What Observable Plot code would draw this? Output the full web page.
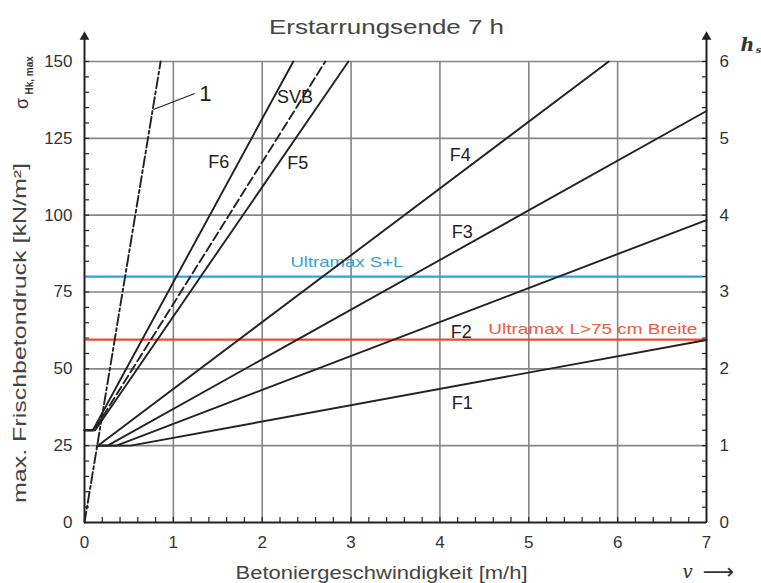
<!DOCTYPE html>
<html><head><meta charset="utf-8">
<script src="https://cdn.jsdelivr.net/npm/d3@7"></script>
<script src="https://cdn.jsdelivr.net/npm/@observablehq/plot@0.6"></script>
<style>body{margin:0;background:#fff} svg{display:block}</style>
</head><body><div id="chart"></div>
<script>
// ---- data ----
const titleText = "Erstarrungsende 7 h";
const xLabel = "Betoniergeschwindigkeit [m/h]";
const yLabel = "max. Frischbetondruck [kN/m²]";
const xTicks = [0, 1, 2, 3, 4, 5, 6, 7];
const yTicks = [0, 25, 50, 75, 100, 125, 150];
const hTickLabels = ["0", "1", "2", "3", "4", "5", "6"];

const seriesNames = ["1", "F1", "F2", "F3", "F4", "F5", "F6", "SVB"];
const seriesV = {
  "1":   [0, 0.857],
  "F1":  [0.143, 0.52, 7],
  "F2":  [0.143, 0.36, 7],
  "F3":  [0.143, 0.26, 7],
  "F4":  [0.143, 0.15, 5.9],
  "F5":  [0, 0.12, 2.97],
  "F6":  [0, 0.094, 2.35],
  "SVB": [0, 0.108, 2.71]
};
const seriesS = {
  "1":   [0, 150],
  "F1":  [25, 25, 59.4],
  "F2":  [25, 25, 98.4],
  "F3":  [25, 25, 133.9],
  "F4":  [25, 25, 150],
  "F5":  [30, 30, 150],
  "F6":  [30, 30, 150],
  "SVB": [30, 30, 150]
};
const labelNames = ["F1", "F2", "F3", "F4", "F5", "F6", "SVB", "1"];
const labelV = [4.25, 4.24, 4.25, 4.23, 2.40, 1.51, 2.37, 1.36];
const labelS = [38.7, 62.0, 94.4, 119.4, 116.8, 117.2, 138.3, 139.6];
const leaderV = [0.776, 1.24];
const leaderS = [134.4, 139.6];

const limitNames = ["Ultramax S+L", "Ultramax L>75 cm Breite"];
const limitValues = [80, 59.5];
const limitEnds = [6.96, 7];
const limitColors = ["#2ea3e3", "#f2492c"];
const limitTextColors = ["#3a9fdc", "#ef5a3c"];
const limitLabelV = [2.317, 4.545];
const limitLabelS = [84.6, 62.8];

// ---- build tables ----
const rows = seriesNames.flatMap(name =>
  seriesV[name].map((v, i) => ({series: name, v, s: seriesS[name][i]})));
const solid = rows.filter(d => ["F1","F2","F3","F4","F5","F6"].includes(d.series));
const svb = rows.filter(d => d.series === "SVB");
const hyd = rows.filter(d => d.series === "1");
const labels = labelNames.map((n, i) => ({n, v: labelV[i], s: labelS[i]}));
const limits = limitNames.map((n, i) => ({n, s: limitValues[i], end: limitEnds[i], c: limitColors[i], tc: limitTextColors[i], lv: limitLabelV[i], ls: limitLabelS[i]}));

const minorX = d3.range(0, 35).map(i => i * 0.2);
const minorY = d3.range(0, 31).map(i => i * 5);
const axisTop = 158;
const font = "'Liberation Sans', Arial, sans-serif";
const grid = "#858585";
const ink = "#222";
const mid = {textAnchor: "middle", lineAnchor: "middle"};

const chart = Plot.plot({
  width: 761, height: 583,
  marginLeft: 84, marginRight: 55, marginTop: 61, marginBottom: 61,
  x: {domain: [0, 7]},
  y: {domain: [0, 150]},
  style: {fontFamily: font, background: "#fff"},
  marks: [
    // grid
    Plot.ruleX(xTicks.slice(1, -1), {y1: 0, y2: 150, stroke: grid, strokeWidth: 1.6}),
    Plot.ruleY(yTicks.slice(1), {x1: 0, x2: 7, stroke: grid, strokeWidth: 1.6}),
    // minor ticks
    Plot.axisX({ticks: minorX, tickSize: 5, dy: -5, tickFormat: () => "", label: null, stroke: ink, strokeWidth: 1.2}),
    Plot.axisY({anchor: "left", ticks: minorY, tickSize: 5, dx: 5, tickFormat: () => "", label: null, stroke: ink, strokeWidth: 1.2}),
    Plot.axisY({anchor: "right", ticks: minorY, tickSize: 5, dx: -5, tickFormat: () => "", label: null, stroke: ink, strokeWidth: 1.2}),
    // tick labels
    Plot.axisX({ticks: xTicks, tickSize: 0, tickPadding: 13, label: null, fontSize: 17, fill: "#333", tickFormat: d3.format("d")}),
    Plot.axisY({anchor: "left", ticks: yTicks, tickSize: 0, tickPadding: 12, label: null, fontSize: 17, fill: "#333", tickFormat: d3.format("d")}),
    Plot.axisY({anchor: "right", ticks: yTicks, tickSize: 0, tickPadding: 13, label: null, fontSize: 17, fill: "#333",
      tickFormat: (d) => hTickLabels[yTicks.indexOf(d)]}),
    // limit lines
    Plot.ruleY(limits, {y: "s", x1: 0, x2: "end", stroke: "c", strokeWidth: 2.4}),
    Plot.text(limits, {x: "lv", y: "ls", text: "n", fill: "tc", fontSize: 15, textAnchor: "start", className: "lim"}),
    // curves
    Plot.line(solid, {x: "v", y: "s", z: "series", stroke: ink, strokeWidth: 1.9}),
    Plot.line(svb, {x: "v", y: "s", stroke: ink, strokeWidth: 1.9, strokeDasharray: "9,4"}),
    Plot.line(hyd, {x: "v", y: "s", stroke: ink, strokeWidth: 1.9, strokeDasharray: "11,3,3,3"}),
    Plot.link([0], {x1: () => leaderV[0], y1: () => leaderS[0], x2: () => leaderV[1], y2: () => leaderS[1], stroke: ink, strokeWidth: 1.2}),
    Plot.text(labels, {x: "v", y: "s", text: "n", fill: ink,
      fontSize: d => d.n === "1" ? 22 : 18,
      fontWeight: d => d.n === "1" ? "bold" : "normal"}),
    // axis lines with arrows
    Plot.ruleX([0, 7], {y1: 0, y2: axisTop, stroke: ink, strokeWidth: 2}),
    Plot.ruleY([0], {x1: 0, x2: 7, stroke: ink, strokeWidth: 2}),
    Plot.dot([0, 7], {x: d => d, y: () => axisTop, symbol: "triangle", r: 3.6, fill: ink, stroke: null}),
    // titles
    Plot.text([titleText], {frameAnchor: "top", dx: -9, dy: -34, fontSize: 21, fill: "#444", ...mid, className: "ttl"}),
    Plot.text([xLabel], {frameAnchor: "bottom", dx: -14, dy: 51, fontSize: 18, fill: "#444", ...mid, className: "xlab"}),
    Plot.text([yLabel], {frameAnchor: "left", rotate: -90, dx: -64, dy: 41, fontSize: 18, fill: "#444", ...mid, className: "ylab"}),
    Plot.text(["σ"], {frameAnchor: "top-left", rotate: -90, dx: -62, dy: 42, fontSize: 18, fill: "#333", ...mid}),
    Plot.text(["Hk, max"], {frameAnchor: "top-left", rotate: -90, dx: -55, dy: 33, fontSize: 10, fontWeight: "bold", fill: "#333", textAnchor: "start", lineAnchor: "middle"}),
    Plot.text(["h"], {frameAnchor: "top-right", dx: 41, dy: -17, fontSize: 19, fontWeight: "bold", fontStyle: "italic", fontFamily: "'DejaVu Serif', serif", fill: "#333", ...mid}),
    Plot.text(["s"], {frameAnchor: "top-right", dx: 52, dy: -12, fontSize: 10, fontWeight: "bold", fontStyle: "italic", fontFamily: "'DejaVu Serif', serif", fill: "#333", ...mid}),
    Plot.text(["v"], {frameAnchor: "bottom-right", dx: -19, dy: 50, fontSize: 18, fontStyle: "italic", fontFamily: "'DejaVu Serif', serif", fill: "#333", ...mid}),
    Plot.text(["⟶"], {frameAnchor: "bottom-right", dx: 12, dy: 49, fontSize: 22, fontFamily: "'DejaVu Sans', sans-serif", fill: "#333", ...mid})
  ]
});
// the reference lettering is wider than the installed fonts: stretch glyphs to its measured lengths
const stretch = (cls, lens) => d3.select(chart).selectAll(`g.${cls} text`).each(function(_, i) {
  d3.select(this).attr("textLength", lens[i]).attr("lengthAdjust", "spacingAndGlyphs");
});
stretch("ttl", [235]);
stretch("xlab", [292]);
stretch("ylab", [340]);
stretch("lim", [113, 209]);
document.getElementById("chart").appendChild(chart);
</script>
</body></html>
